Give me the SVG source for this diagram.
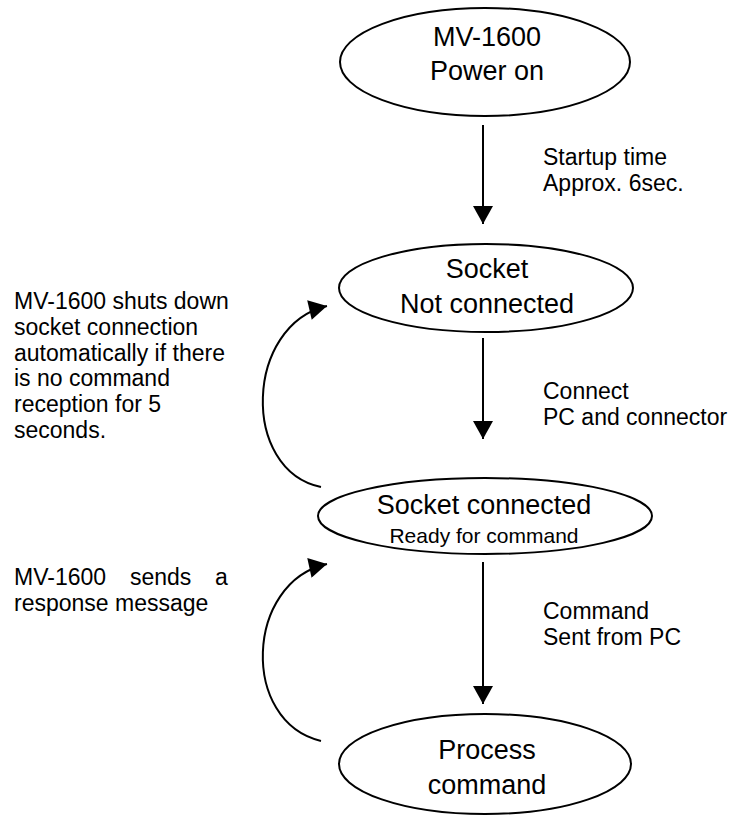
<svg xmlns="http://www.w3.org/2000/svg" width="738" height="816" viewBox="0 0 738 816">
<style>
.node{fill:#fff;stroke:#000;stroke-width:2}
.big{font-family:"Liberation Sans",Arial,sans-serif;font-size:27px;fill:#000;text-anchor:middle}
.small{font-family:"Liberation Sans",Arial,sans-serif;font-size:21px;fill:#000;text-anchor:middle}
.lbl{font-family:"Liberation Sans",Arial,sans-serif;font-size:23px;fill:#000}
.conn{fill:none;stroke:#000;stroke-width:2;marker-end:url(#ah)}
</style>
<defs>
<marker id="ah" markerUnits="userSpaceOnUse" markerWidth="20" markerHeight="20" viewBox="0 0 18 20" refX="18" refY="10" orient="auto">
<path d="M0,0 L18,10 L0,20 z" fill="#000"/>
</marker>
</defs>
<rect width="738" height="816" fill="#fff"/>
<g id="connectors">
<line class="conn" x1="483" y1="125" x2="483" y2="224"/>
<line class="conn" x1="483" y1="338" x2="483" y2="439"/>
<line class="conn" x1="483" y1="562" x2="483" y2="704"/>
<path class="conn" d="M321,487 C240,470 245,325 327,306"/>
<path class="conn" d="M321,741 C240,722 245,582 327,564"/>
</g>
<g id="power-on">
<ellipse class="node" cx="485" cy="62" rx="145" ry="54"/>
<text class="big" x="487" y="46">MV-1600</text>
<text class="big" x="487" y="80">Power on</text>
</g>
<g id="not-connected">
<ellipse class="node" cx="486" cy="288" rx="147" ry="44"/>
<text class="big" x="487" y="278">Socket</text>
<text class="big" x="487" y="313">Not connected</text>
</g>
<g id="connected">
<ellipse class="node" cx="485" cy="516" rx="167" ry="38"/>
<text class="big" x="484" y="514">Socket connected</text>
<text class="small" x="484" y="543">Ready for command</text>
</g>
<g id="process">
<ellipse class="node" cx="485" cy="764" rx="146" ry="50"/>
<text class="big" x="487" y="759">Process</text>
<text class="big" x="487" y="794">command</text>
</g>
<g id="labels">
<text class="lbl" x="543" y="165">Startup time</text>
<text class="lbl" x="543" y="190.8">Approx. 6sec.</text>
<text class="lbl" x="543" y="399">Connect</text>
<text class="lbl" x="543" y="424.8">PC and connector</text>
<text class="lbl" x="543" y="619">Command</text>
<text class="lbl" x="543" y="644.8">Sent from PC</text>
<text class="lbl" x="14" y="309">MV-1600 shuts down</text>
<text class="lbl" x="14" y="334.8">socket connection</text>
<text class="lbl" x="14" y="360.6">automatically if there</text>
<text class="lbl" x="14" y="386.4">is no command</text>
<text class="lbl" x="14" y="412.2">reception for 5</text>
<text class="lbl" x="14" y="438">seconds.</text>
<text class="lbl" x="14" y="585">MV-1600</text>
<text class="lbl" x="130" y="585">sends</text>
<text class="lbl" x="215" y="585">a</text>
<text class="lbl" x="14" y="610.8">response message</text>
</g>
</svg>
